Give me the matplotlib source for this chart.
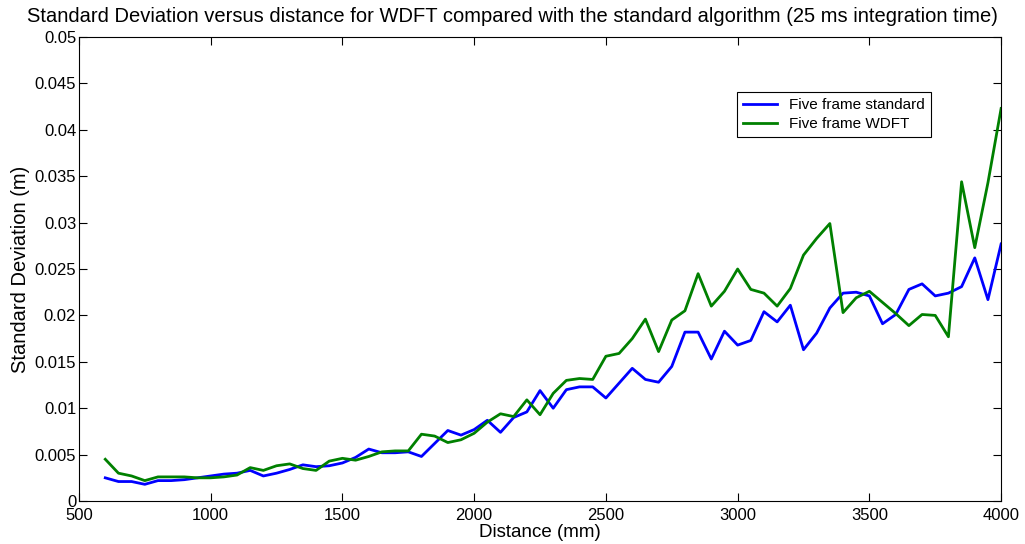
import matplotlib
matplotlib.use("Agg")
import matplotlib.pyplot as plt

plt.rcParams['font.family'] = ['Liberation Sans', 'DejaVu Sans']

distance = list(range(600, 4001, 50))

std_standard = [
    0.0025, 0.0021, 0.0021, 0.0018, 0.0022, 0.0022, 0.0023, 0.0025, 0.0027, 0.0029,
    0.0030, 0.0033, 0.0027, 0.0030, 0.0034, 0.0039, 0.0037, 0.0038, 0.0041, 0.0047,
    0.0056, 0.0052, 0.0052, 0.0053, 0.0048, 0.0062, 0.0076, 0.0071, 0.0077, 0.0087,
    0.0074, 0.0090, 0.0096, 0.0119, 0.0100, 0.0120, 0.0123, 0.0123, 0.0111, 0.0127,
    0.0143, 0.0131, 0.0128, 0.0145, 0.0182, 0.0182, 0.0153, 0.0183, 0.0168, 0.0173,
    0.0204, 0.0193, 0.0211, 0.0163, 0.0181, 0.0208, 0.0224, 0.0225, 0.0221, 0.0191,
    0.0201, 0.0228, 0.0234, 0.0221, 0.0224, 0.0231, 0.0262, 0.0217, 0.0277,
]

std_wdft = [
    0.0045, 0.0030, 0.0027, 0.0022, 0.0026, 0.0026, 0.0026, 0.0025, 0.0025, 0.0026,
    0.0028, 0.0036, 0.0033, 0.0038, 0.0040, 0.0035, 0.0033, 0.0043, 0.0046, 0.0044,
    0.0048, 0.0053, 0.0054, 0.0054, 0.0072, 0.0070, 0.0063, 0.0066, 0.0073, 0.0085,
    0.0094, 0.0091, 0.0109, 0.0093, 0.0116, 0.0130, 0.0132, 0.0131, 0.0156, 0.0159,
    0.0175, 0.0196, 0.0161, 0.0195, 0.0205, 0.0245, 0.0210, 0.0226, 0.0250, 0.0228,
    0.0224, 0.0210, 0.0229, 0.0265, 0.0283, 0.0299, 0.0203, 0.0219, 0.0226, 0.0214,
    0.0202, 0.0189, 0.0201, 0.0200, 0.0177, 0.0344, 0.0273, 0.0343, 0.0423,
]

x_ticks = [500, 1000, 1500, 2000, 2500, 3000, 3500, 4000]
y_ticks = [0, 0.005, 0.01, 0.015, 0.02, 0.025, 0.03, 0.035, 0.04, 0.045, 0.05]
y_tick_labels = ['0', '0.005', '0.01', '0.015', '0.02', '0.025', '0.03',
                 '0.035', '0.04', '0.045', '0.05']

fig = plt.figure(figsize=(10.25, 5.44), dpi=100)
ax = fig.add_axes([0.077, 0.079, 0.8997, 0.853])

ax.plot(distance, std_standard, color=(0, 0, 1), lw=2, label='Five frame standard')
ax.plot(distance, std_wdft, color=(0, 0.5, 0), lw=2, label='Five frame WDFT')

ax.set_xlim(500, 4000)
ax.set_ylim(0, 0.05)
ax.set_xticks(x_ticks)
ax.set_yticks(y_ticks)
ax.set_yticklabels(y_tick_labels)
ax.tick_params(direction='in', top=True, right=True, labelsize=12, length=6, pad=2)
ax.tick_params(axis='x', pad=5)

fig.text(0.5, 0.97, 'Standard Deviation versus distance for WDFT compared with the standard algorithm (25 ms integration time)',
         fontsize=14.5, ha='center', va='center')
ax.set_xlabel('Distance (mm)', fontsize=13.5, labelpad=1)
ax.set_ylabel('Standard Deviation (m)', fontsize=14.5, labelpad=3)

leg = ax.legend(loc='upper left', bbox_to_anchor=(0.714, 0.881), borderaxespad=0,
                fontsize=11, fancybox=False, framealpha=1, handlelength=2.2,
                borderpad=0.4, labelspacing=0.3)
leg.get_frame().set_edgecolor('black')
leg.get_frame().set_linewidth(0.8)

plt.savefig('out.png')
